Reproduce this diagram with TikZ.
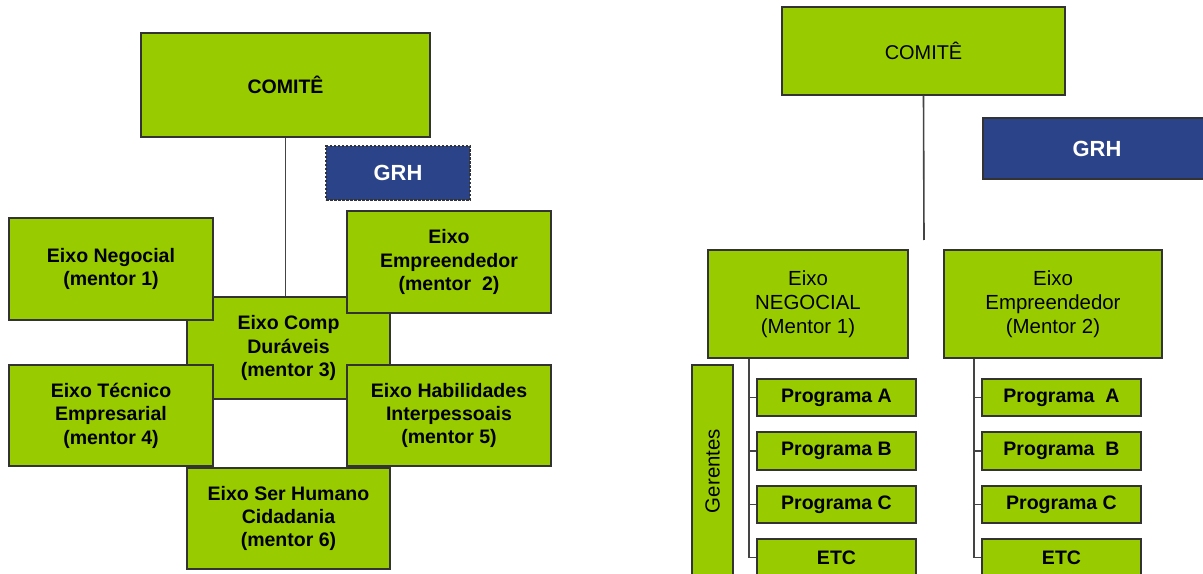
\documentclass[tikz,border=0pt]{standalone}
\usepackage{fontspec}
\setmainfont{Liberation Sans}
\definecolor{lime}{HTML}{99CC00}
\definecolor{grhblue}{HTML}{2B4388}
\definecolor{edgegray}{HTML}{333333}
\definecolor{linegray}{HTML}{444444}
\tikzset{
  box/.style={draw=edgegray, line width=1.2bp, fill=lime, inner sep=0pt, align=center, text=black},
  lbold/.style={font=\fontsize{19.6}{23.5}\selectfont\bfseries},
  rreg/.style={font=\fontsize{20.5}{24}\selectfont},
  rbold/.style={font=\fontsize{19.6}{23.5}\selectfont\bfseries},
  grhbox/.style={fill=grhblue, text=white, inner sep=0pt, font=\fontsize{22}{26}\selectfont\bfseries},
  conn/.style={draw=linegray, line width=1.6bp},
}
\begin{document}
\begin{tikzpicture}[x=1bp,y=-1bp]
\useasboundingbox (0,0) rectangle (1203,574);
\clip (0,0) rectangle (1203,574);
\fill[white] (0,0) rectangle (1203,574);

% ---------- left diagram ----------
\node[box, lbold, minimum width=289bp, minimum height=104bp] (com1) at (285.5,85) {COMITÊ};
\node[grhbox, draw=edgegray, line width=1.2bp, dash pattern=on 2.5bp off 1.5bp, minimum width=144bp, minimum height=54bp] (grh1) at (398,173) {GRH};
\node[box, lbold, minimum width=203bp, minimum height=102bp] (comp) at (288.5,348) {Eixo Comp\\Duráveis\\(mentor 3)};
\draw[conn] (com1.south) -- (com1.south |- comp.north);
\node[box, lbold, minimum width=204bp, minimum height=102bp] (neg1) at (111,269) {Eixo Negocial\\(mentor 1)};
\node[box, lbold, minimum width=204bp, minimum height=102bp] (emp1) at (449,262) {Eixo\\Empreendedor\\(mentor~~2)};
\node[box, lbold, minimum width=204bp, minimum height=101bp] (tec) at (111,415.5) {Eixo Técnico\\Empresarial\\(mentor 4)};
\node[box, lbold, minimum width=204bp, minimum height=101bp] (hab) at (449,415.5) {Eixo Habilidades\\Interpessoais\\(mentor 5)};
\node[box, lbold, minimum width=203bp, minimum height=101bp] (ser) at (288.5,518.5) {Eixo Ser Humano\\Cidadania\\(mentor 6)};

% ---------- right diagram ----------
\node[box, font=\fontsize{20}{24}\selectfont, minimum width=283bp, minimum height=88bp] (com2) at (923.5,51) {COMITÊ};
\node[grhbox, draw=edgegray, line width=1.2bp, minimum width=228bp, minimum height=61bp] (grh2) at (1097,148.5) {GRH};
\coordinate (endR) at (924,240);
\draw[conn] (com2.south) -- (endR);

\node[box, rreg, minimum width=200bp, minimum height=108bp] (negR) at (808,304) {Eixo\\NEGOCIAL\\(Mentor 1)};
\node[box, rreg, minimum width=218bp, minimum height=108bp] (empR) at (1053,304) {Eixo\\Empreendedor\\(Mentor 2)};

\node[box, rreg, rotate=90, minimum width=212bp, minimum height=41bp] (ger) at (712.5,471) {Gerentes};

\node[box, rbold, minimum width=159bp, minimum height=37bp] (lA) at (836.5,397.5) {Programa A};
\node[box, rbold, minimum width=159bp, minimum height=38bp] (lB) at (836.5,451) {Programa B};
\node[box, rbold, minimum width=159bp, minimum height=37bp] (lC) at (836.5,504.5) {Programa C};
\node[box, rbold, minimum width=159bp, minimum height=37bp] (lE) at (836.5,557.5) {ETC};

\node[box, rbold, minimum width=159bp, minimum height=37bp] (rA) at (1061.5,397.5) {Programa~~A};
\node[box, rbold, minimum width=159bp, minimum height=38bp] (rB) at (1061.5,451) {Programa~~B};
\node[box, rbold, minimum width=159bp, minimum height=37bp] (rC) at (1061.5,504.5) {Programa C};
\node[box, rbold, minimum width=159bp, minimum height=37bp] (rE) at (1061.5,557.5) {ETC};

\coordinate (trunkL) at (negR.south -| 749,0);
\coordinate (trunkR) at (empR.south -| 974,0);
\foreach \n in {lA,lB,lC,lE} \draw[conn] (trunkL) |- (\n.west);
\foreach \n in {rA,rB,rC,rE} \draw[conn] (trunkR) |- (\n.west);
\end{tikzpicture}
\end{document}
